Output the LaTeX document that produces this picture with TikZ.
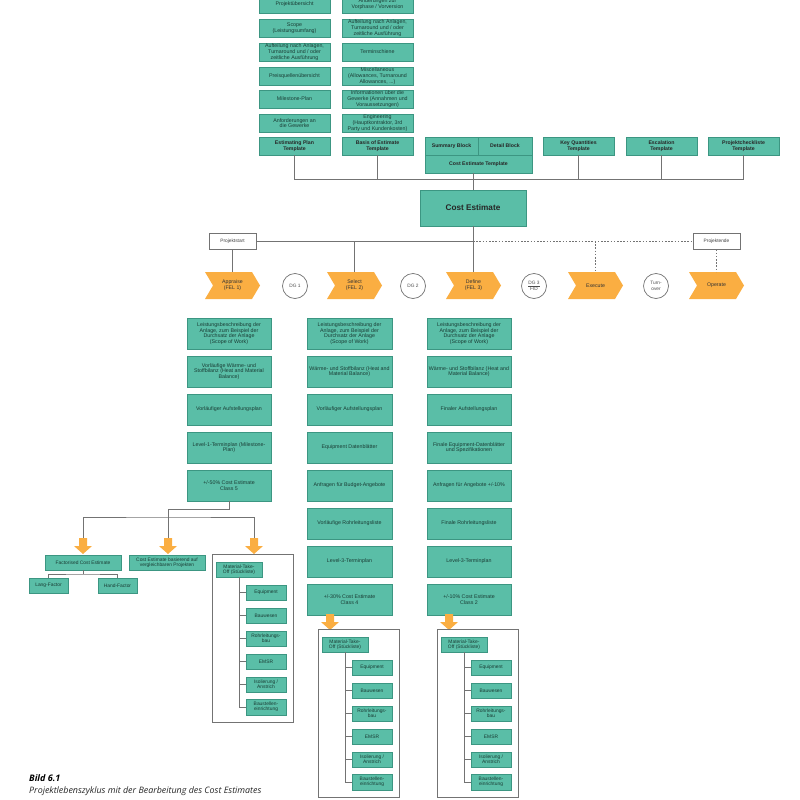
\documentclass[tikz,border=0pt]{standalone}
\usepackage{fontspec}
\setmainfont{Liberation Sans}
\newfontfamily\capfont{Open Sans}
\usetikzlibrary{calc}
\definecolor{teal1}{RGB}{90,190,167}
\definecolor{teal2}{RGB}{60,150,130}
\definecolor{tealtxt}{RGB}{26,60,52}
\definecolor{orng}{RGB}{250,174,66}
\definecolor{lgray}{RGB}{115,115,115}

\newcommand\rbox[7]{%
 \pgfmathsetmacro\rbW{(#5)-(#3)}\pgfmathsetmacro\rbH{(#6)-(#4)}%
 \pgfmathsetmacro\rbX{((#3)+(#5))/2}\pgfmathsetmacro\rbY{((#4)+(#6))/2}%
 \node[#1, minimum width=\rbW pt, minimum height=\rbH pt] (#2) at (\rbX,\rbY) {#7};}

\newcommand\orarrow[2]{%
 \fill[orng] (#1-4,#2) -- (#1+4,#2) -- (#1+4,#2+8) -- (#1+9,#2+8) -- (#1,#2+16)
   -- (#1-9,#2+8) -- (#1-4,#2+8) -- cycle;}

\newcommand\mtogroup[3]{%
 \rbox{grpbox}{#1g}{212+#2}{554+#3}{293+#2}{722+#3}{}
 \rbox{sb}{#1m}{216+#2}{562+#3}{262+#2}{577+#3}{Material-Take-\\Off (Stückliste)}
 \rbox{sb}{#1a}{246+#2}{585+#3}{286+#2}{600+#3}{Equipment}
 \rbox{sb}{#1b}{246+#2}{608+#3}{286+#2}{623+#3}{Bauwesen}
 \rbox{sb}{#1c}{246+#2}{631+#3}{286+#2}{646+#3}{Rohrleitungs-\\bau}
 \rbox{sb}{#1d}{246+#2}{654+#3}{286+#2}{669+#3}{EMSR}
 \rbox{sb}{#1e}{246+#2}{677+#3}{286+#2}{692+#3}{Isolierung /\\Anstrich}
 \rbox{sb}{#1f}{246+#2}{699+#3}{286+#2}{715+#3}{Baustellen-\\einrichtung}
 \draw[tln] (#1m.south) |- (#1f.west);
 \foreach \q in {a,b,c,d,e} {\draw[tln] (#1m.south |- #1\q.west) -- (#1\q.west);}
}

\begin{document}
\begin{tikzpicture}[x=1pt,y=-1pt,
 tb/.style={draw=teal2, line width=0.4pt, fill=teal1, text=tealtxt, align=center,
   inner sep=0.5pt, font=\fontsize{5.3}{5.7}\selectfont},
 tbb/.style={tb, text=black!85, font=\fontsize{5.2}{5.8}\selectfont\bfseries},
 cb/.style={tb, font=\fontsize{5.3}{5.5}\selectfont},
 sb/.style={tb, font=\fontsize{4.9}{5.2}\selectfont},
 wb/.style={draw=lgray, line width=0.8pt, fill=white, text=black!75, inner sep=0.5pt,
   font=\fontsize{4.8}{5.5}\selectfont},
 dgc/.style={circle, draw=lgray, line width=0.7pt, fill=white, minimum size=25pt,
   inner sep=0pt, align=center, text=black!70, font=\fontsize{4.8}{5.6}\selectfont},
 phase/.style={minimum width=55pt, minimum height=27pt, inner sep=0pt, align=center,
   text=black!80, font=\fontsize{5.2}{5.8}\selectfont,
   path picture={\fill[orng] (path picture bounding box.north west)
     -- ([xshift=-8pt]path picture bounding box.north east)
     -- (path picture bounding box.east)
     -- ([xshift=-8pt]path picture bounding box.south east)
     -- (path picture bounding box.south west)
     -- ([xshift=8pt]path picture bounding box.west) -- cycle;}},
 ln/.style={draw=lgray, line width=0.7pt},
 dln/.style={ln, dash pattern=on 1.6pt off 1.6pt},
 tln/.style={draw=lgray, line width=0.6pt},
 grpbox/.style={draw=lgray, line width=0.7pt},
]
\useasboundingbox (0,0) rectangle (800,800);

% ---------- top stacks ----------
\rbox{tb}{t1}{259}{-5}{330}{13}{Projektübersicht}
\rbox{tb}{t2}{259}{19}{330}{37}{Scope\\(Leistungsumfang)}
\rbox{tb}{t3}{259}{43}{330}{61}{Aufteilung nach Anlagen,\\Turnaround und / oder\\zeitliche Ausführung}
\rbox{tb}{t4}{259}{67}{330}{85}{Preisquellenübersicht}
\rbox{tb}{t5}{259}{90}{330}{108}{Milestone-Plan}
\rbox{tb}{t6}{259}{114}{330}{132}{Anforderungen an\\die Gewerke}
\rbox{tbb}{ept}{259}{137}{330}{155}{Estimating Plan\\Template}

\rbox{tb}{u1}{342}{-5}{413}{13}{Änderungen zur\\Vorphase / Vorversion}
\rbox{tb}{u2}{342}{19}{413}{37}{Aufteilung nach Anlagen,\\Turnaround und / oder\\zeitliche Ausführung}
\rbox{tb}{u3}{342}{43}{413}{61}{Terminschiene}
\rbox{tb}{u4}{342}{67}{413}{85}{Miscellaneous\\(Allowances, Turnaround\\Allowances, ...)}
\rbox{tb}{u5}{342}{90}{413}{108}{Informationen über die\\Gewerke (Annahmen und\\Voraussetzungen)}
\rbox{tb}{u6}{342}{114}{413}{132}{Engineering\\(Hauptkontraktor, 3rd\\Party und Kundenkosten)}
\rbox{tbb}{boe}{342}{137}{413}{155}{Basis of Estimate\\Template}

\rbox{tbb}{sum}{425}{137}{478}{155}{Summary Block}
\rbox{tbb}{det}{478}{137}{532}{155}{Detail Block}
\rbox{tbb}{cet}{425}{155}{532}{173}{Cost Estimate Template}
\rbox{tbb}{kqt}{543}{137}{614}{155}{Key Quantities\\Template}
\rbox{tbb}{esc}{626}{137}{697}{155}{Escalation\\Template}
\rbox{tbb}{pct}{708}{137}{779}{155}{Projektcheckliste\\Template}

\rbox{tb, text=black!85, font=\fontsize{8.2}{9}\selectfont\bfseries}{ce}{420}{190}{526}{226}{Cost Estimate}

\coordinate (bus) at (0,179);
\draw[ln] (ept.south) -- (ept.south |- bus) -- (pct.south |- bus) -- (pct.south);
\draw[ln] (boe.south) -- (boe.south |- bus);
\draw[ln] (kqt.south) -- (kqt.south |- bus);
\draw[ln] (esc.south) -- (esc.south |- bus);
\draw[ln] (ce.north |- cet.south) -- (ce.north);

% ---------- phase row ----------
\rbox{wb}{pstart}{209}{233}{256}{249}{Projektstart}
\rbox{wb}{pende}{693}{233}{740}{249}{Projektende}

\node[phase] (appr) at (232.5,285.5) {Appraise\\(FEL 1)};
\node[phase] (sel)  at (354.5,285.5) {Select\\(FEL 2)};
\node[phase] (def)  at (473.5,285.5) {Define\\(FEL 3)};
\node[phase] (exe)  at (595.5,285.5) {Execute};
\node[phase] (oper) at (716.5,285.5) {Operate};

\node[dgc] (dg1) at (295,286) {DG 1};
\node[dgc] (dg2) at (413,286) {DG 2};
\node[dgc] (dg3) at (534,286) {\underline{DG 3}\\FID};
\node[dgc] (turn) at (656,286) {Turn-\\over};

\draw[ln] (pstart.east) -- (ce.south |- pstart.east);
\draw[dln] (ce.south |- pstart.east) -- (pende.west);
\draw[ln] (pstart.south) -- (appr.north);
\draw[ln] (sel.north |- pstart.east) -- (sel.north);
\draw[ln] (ce.south) -- (ce.south |- def.north);
\draw[dln] (exe.north |- pstart.east) -- (exe.north);
\draw[dln] (pende.south) -- (oper.north);

% ---------- columns ----------
\rbox{cb}{l1}{187}{318}{271}{349}{Leistungsbeschreibung der\\Anlage, zum Beispiel der\\Durchsatz der Anlage\\(Scope of Work)}
\rbox{cb}{l2}{187}{356}{271}{387}{Vorläufige Wärme- und\\Stoffbilanz (Heat and Material\\Balance)}
\rbox{cb}{l3}{187}{394}{271}{425}{Vorläufiger Aufstellungsplan}
\rbox{cb}{l4}{187}{432}{271}{463}{Level-1-Terminplan (Milestone-\\Plan)}
\rbox{cb}{l5}{187}{470}{271}{501}{+/-50\% Cost Estimate\\Class 5}

\rbox{cb}{m1}{307}{318}{392}{349}{Leistungsbeschreibung der\\Anlage, zum Beispiel der\\Durchsatz der Anlage\\(Scope of Work)}
\rbox{cb}{m2}{307}{356}{392}{387}{Wärme- und Stoffbilanz (Heat and\\Material Balance)}
\rbox{cb}{m3}{307}{394}{392}{425}{Vorläufiger Aufstellungsplan}
\rbox{cb}{m4}{307}{432}{392}{463}{Equipment Datenblätter}
\rbox{cb}{m5}{307}{470}{392}{501}{Anfragen für Budget-Angebote}
\rbox{cb}{m6}{307}{508}{392}{539}{Vorläufige Rohrleitungsliste}
\rbox{cb}{m7}{307}{546}{392}{577}{Level-3-Terminplan}
\rbox{cb}{m8}{307}{584}{392}{615}{+/-30\% Cost Estimate\\Class 4}

\rbox{cb}{r1}{427}{318}{511}{349}{Leistungsbeschreibung der\\Anlage, zum Beispiel der\\Durchsatz der Anlage\\(Scope of Work)}
\rbox{cb}{r2}{427}{356}{511}{387}{Wärme- und Stoffbilanz (Heat and\\Material Balance)}
\rbox{cb}{r3}{427}{394}{511}{425}{Finaler Aufstellungsplan}
\rbox{cb}{r4}{427}{432}{511}{463}{Finale Equipment-Datenblätter\\und Spezifikationen}
\rbox{cb}{r5}{427}{470}{511}{501}{Anfragen für Angebote +/-10\%}
\rbox{cb}{r6}{427}{508}{511}{539}{Finale Rohrleitungsliste}
\rbox{cb}{r7}{427}{546}{511}{577}{Level-3-Terminplan}
\rbox{cb}{r8}{427}{584}{511}{615}{+/-10\% Cost Estimate\\Class 2}

% ---------- bottom left ----------
\coordinate (e1) at (229,509);
\coordinate (j1) at (168,517);
\coordinate (a1) at (83,538);
\coordinate (a2) at (168,538);
\coordinate (a3) at (254,538);
\draw[ln] (l5.south) -- (e1) -| (j1);
\draw[ln] (a1) |- (j1) -| (a3);
\draw[ln] (j1) -- (a2);
\orarrow{83}{538}
\orarrow{168}{538}
\orarrow{254}{538}

\rbox{sb}{fcs}{45}{555}{121}{570}{Factorised Cost Estimate}
\rbox{sb}{vgl}{129}{555}{205}{570}{Cost Estimate basierend auf\\vergleichbaren Projekten}
\rbox{sb}{lang}{29}{578}{68}{593}{Lang-Factor}
\rbox{sb}{hand}{98}{578}{137}{593}{Hand-Factor}
\coordinate (e2) at (83,574);
\draw[tln] (fcs.south) -- (e2);
\draw[tln] (lang.north) |- (e2) -| (hand.north);

\mtogroup{gL}{0}{0}

% ---------- bottom middle / right ----------
\orarrow{330}{614}
\orarrow{449}{614}
\mtogroup{gM}{106}{75}
\mtogroup{gR}{225}{75}

% ---------- caption ----------
\node[anchor=base west, inner sep=0pt, font=\capfont\bfseries\itshape\fontsize{9}{10}\selectfont] (cap1) at (29,781) {Bild 6.1};
\node[anchor=base west, inner sep=0pt, font=\capfont\itshape\fontsize{8.9}{10}\selectfont, text=black!85] (cap2) at (29,793) {Projektlebenszyklus mit der Bearbeitung des Cost Estimates};
\end{tikzpicture}
\end{document}
